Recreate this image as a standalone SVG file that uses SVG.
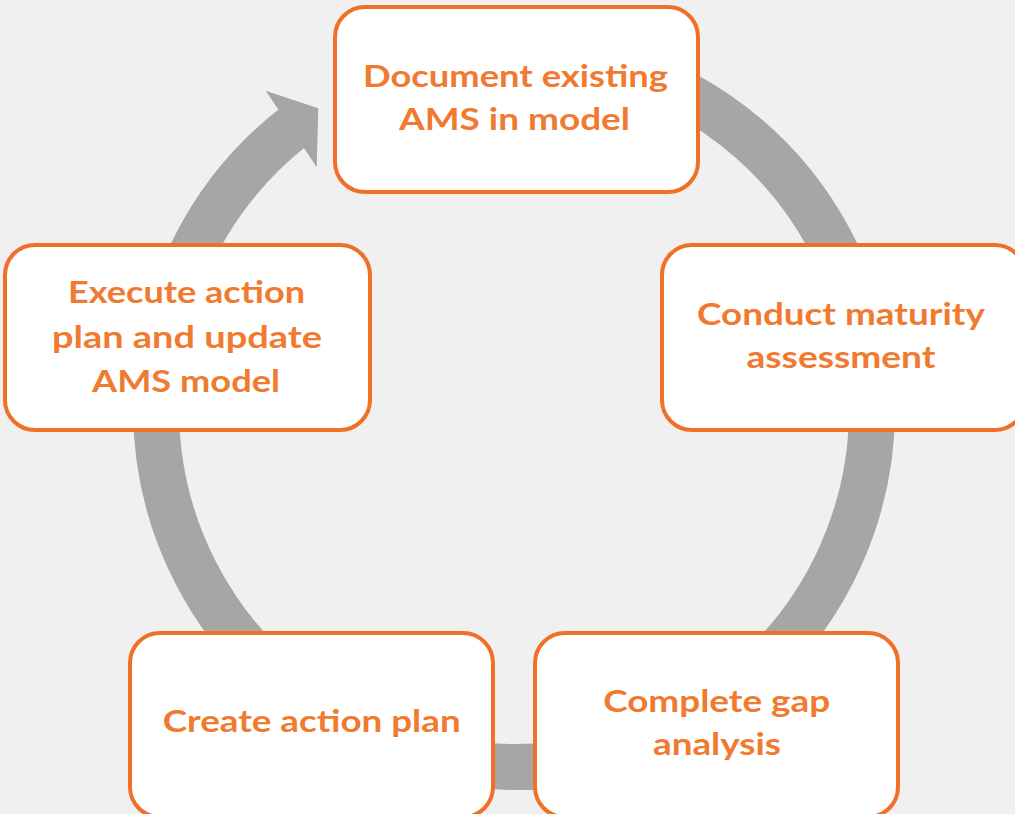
<svg xmlns="http://www.w3.org/2000/svg" width="1015" height="814" viewBox="0 0 1015 814">
<style>
.box{fill:#ffffff;stroke:#f07028;stroke-width:4}
.lbl{font-family:Lato,"Open Sans","Liberation Sans",sans-serif;font-weight:bold;font-size:31px;fill:#f07a30;text-anchor:middle}
.ring{fill:none;stroke:#a6a6a6;stroke-width:46}
</style>
<rect x="0" y="0" width="1015" height="814" fill="#f0f0f0"/>
<g id="connectors">
<path class="ring" d="M576.2,56.4 A358,358 0 1 1 293.6,126.9"/>
<polygon points="265.7,90.7 318.3,108.3 316.7,167.3" fill="#a6a6a6"/>
</g>
<g id="node-document">
<rect class="box" x="335" y="7" width="363" height="185" rx="30"/>
<text class="lbl" x="515.5" y="87" textLength="305" lengthAdjust="spacingAndGlyphs">Document existing</text>
<text class="lbl" x="514.5" y="130" textLength="231" lengthAdjust="spacingAndGlyphs">AMS in model</text>
</g>
<g id="node-conduct">
<rect class="box" x="662" y="245" width="363" height="185" rx="30"/>
<text class="lbl" x="841" y="325" textLength="288" lengthAdjust="spacingAndGlyphs">Conduct maturity</text>
<text class="lbl" x="841" y="368" textLength="189" lengthAdjust="spacingAndGlyphs">assessment</text>
</g>
<g id="node-gap">
<rect class="box" x="535" y="633" width="363" height="184" rx="30"/>
<text class="lbl" x="716.7" y="711.7" textLength="227" lengthAdjust="spacingAndGlyphs">Complete gap</text>
<text class="lbl" x="717" y="755" textLength="128" lengthAdjust="spacingAndGlyphs">analysis</text>
</g>
<g id="node-create">
<rect class="box" x="130" y="633" width="363" height="184" rx="30"/>
<text class="lbl" x="311.7" y="732" textLength="298" lengthAdjust="spacingAndGlyphs">Create action plan</text>
</g>
<g id="node-execute">
<rect class="box" x="5" y="245" width="365" height="185" rx="30"/>
<text class="lbl" x="186.5" y="303" textLength="237" lengthAdjust="spacingAndGlyphs">Execute action</text>
<text class="lbl" x="187" y="347.5" textLength="270" lengthAdjust="spacingAndGlyphs">plan and update</text>
<text class="lbl" x="186" y="392" textLength="188" lengthAdjust="spacingAndGlyphs">AMS model</text>
</g>
</svg>
